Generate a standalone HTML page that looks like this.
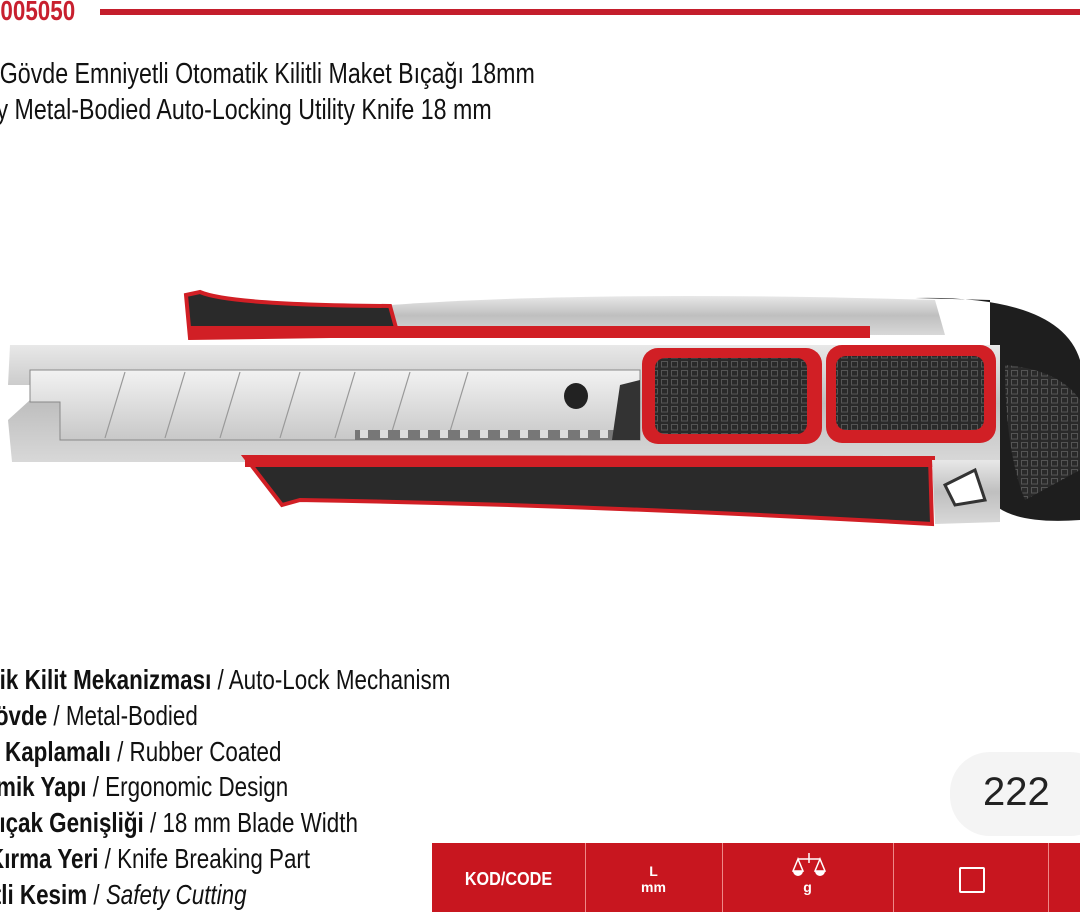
<!DOCTYPE html>
<html style="overflow:hidden"><head><meta charset="utf-8"><style>
html,body{margin:0;width:1080px;height:922px;overflow:hidden;}
body{background:#fff;position:relative;font-family:"Liberation Sans",sans-serif;}
.a{position:absolute;white-space:nowrap;text-align:right;color:#111;transform:scaleX(0.8);transform-origin:right center;}
.f{font-size:28px;line-height:36px;}
b{font-weight:bold}
</style></head><body>
<div class="a" style="right:1005px;top:-5px;font-size:28px;font-weight:bold;color:#c8202f;">1100005050</div>
<div style="position:absolute;left:100px;top:9px;width:980px;height:6px;background:#c41e2c;"></div>
<div class="a" style="right:545px;top:58px;font-size:29px;">Metal Gövde Emniyetli Otomatik Kilitli Maket Bıçağı 18mm</div>
<div class="a" style="right:588px;top:94px;font-size:29px;">Heavy Metal-Bodied Auto-Locking Utility Knife 18 mm</div>

<svg style="position:absolute;left:0;top:0" width="1080" height="922">
<defs>
<linearGradient id="sv" x1="0" y1="0" x2="0" y2="1"><stop offset="0" stop-color="#e8e8e8"/><stop offset=".5" stop-color="#bfbfbf"/><stop offset="1" stop-color="#d8d8d8"/></linearGradient>
<linearGradient id="bl" x1="0" y1="0" x2="0" y2="1"><stop offset="0" stop-color="#f2f2f2"/><stop offset="1" stop-color="#c8c8c8"/></linearGradient>
<pattern id="gr" width="10" height="9" patternUnits="userSpaceOnUse"><rect width="10" height="9" fill="#2a2a2a"/><rect x="1.5" y="1.5" width="6" height="5.5" fill="none" stroke="#555" stroke-width="1"/></pattern>
</defs>
<path d="M915 298 Q1060 295 1080 360 L1080 520 Q1010 525 990 500 L990 300 Z" fill="#1e1e1e"/>
<path d="M1005 365 Q1060 370 1080 400 L1080 470 L1025 500 Q1005 450 1005 365Z" fill="url(#gr)"/>
<path d="M390 305 Q600 290 935 300 L945 335 L390 335Z" fill="url(#sv)"/>
<path d="M186 295 L200 292 Q230 305 390 306 L398 335 L190 338Z" fill="#2a2a2a" stroke="#d11f25" stroke-width="4"/>
<rect x="188" y="326" width="682" height="12" fill="#d11f25"/>
<path d="M10 345 L1000 345 L1000 462 L12 462 L8 420 L30 400 L30 385 L8 385Z" fill="url(#sv)"/>
<path d="M30 370 L640 370 L640 440 L60 440 L60 402 L30 402Z" fill="url(#bl)" stroke="#888" stroke-width="1"/>
<g stroke="#999" stroke-width="1.2"><line x1="125" y1="372" x2="105" y2="438"/><line x1="185" y1="372" x2="165" y2="438"/><line x1="240" y1="372" x2="220" y2="438"/><line x1="300" y1="372" x2="280" y2="438"/><line x1="355" y1="372" x2="335" y2="438"/><line x1="410" y1="372" x2="390" y2="438"/><line x1="468" y1="372" x2="448" y2="438"/></g>
<g fill="#777"><rect x="355" y="430" width="285" height="10"/></g>
<g fill="#ddd"><rect x="360" y="430" width="8" height="8"/><rect x="380" y="430" width="8" height="8"/><rect x="400" y="430" width="8" height="8"/><rect x="420" y="430" width="8" height="8"/><rect x="440" y="430" width="8" height="8"/><rect x="460" y="430" width="8" height="8"/><rect x="480" y="430" width="8" height="8"/><rect x="500" y="430" width="8" height="8"/><rect x="520" y="430" width="8" height="8"/><rect x="540" y="430" width="8" height="8"/><rect x="560" y="430" width="8" height="8"/><rect x="580" y="430" width="8" height="8"/><rect x="600" y="430" width="8" height="8"/></g>
<ellipse cx="576" cy="396" rx="12" ry="13" fill="#222"/>
<path d="M620 385 L640 380 L640 440 L612 440Z" fill="#333"/>
<rect x="642" y="348" width="180" height="96" rx="16" fill="#d11f25"/>
<rect x="655" y="358" width="152" height="76" rx="10" fill="url(#gr)"/>
<rect x="826" y="345" width="170" height="98" rx="16" fill="#d11f25"/>
<rect x="836" y="356" width="148" height="74" rx="10" fill="url(#gr)"/>
<path d="M245 457 L930 458 L932 524 Q600 505 300 500 L282 505 Z" fill="#2a2a2a" stroke="#d11f25" stroke-width="4"/>
<rect x="245" y="456" width="690" height="11" fill="#d11f25"/>
<path d="M932 460 L1000 460 L1000 522 L935 524Z" fill="url(#sv)"/>
<path d="M945 485 L975 470 L985 500 L955 505Z" fill="#fff" stroke="#333" stroke-width="3"/>
</svg>

<div class="a f" style="right:630px;top:662px;"><b>Otomatik Kilit Mekanizması</b> / Auto-Lock Mechanism</div>
<div class="a f" style="right:882px;top:698px;"><b>Metal Gövde</b> / Metal-Bodied</div>
<div class="a f" style="right:799px;top:734px;"><b>Kauçuk Kaplamalı</b> / Rubber Coated</div>
<div class="a f" style="right:792px;top:769px;"><b>Ergonomik Yapı</b> / Ergonomic Design</div>
<div class="a f" style="right:722px;top:805px;"><b>18 mm Bıçak Genişliği</b> / 18 mm Blade Width</div>
<div class="a f" style="right:770px;top:841px;"><b>Bıçak Kırma Yeri</b> / Knife Breaking Part</div>
<div class="a f" style="right:833px;top:877px;"><b>Emniyetli Kesim</b> / <i>Safety Cutting</i></div>

<div style="position:absolute;left:950px;top:752px;width:160px;height:84px;border-radius:40px;background:#f4f4f4;"></div>
<div style="position:absolute;left:983px;top:770px;font-size:40px;color:#222;">222</div>

<div style="position:absolute;left:432px;top:843px;width:648px;height:69px;background:#c8161f;color:#fff;font-weight:bold;">
<div style="position:absolute;left:153px;top:0;width:1px;height:69px;background:#e88;"></div>
<div style="position:absolute;left:290px;top:0;width:1px;height:69px;background:#e88;"></div>
<div style="position:absolute;left:461px;top:0;width:1px;height:69px;background:#e88;"></div>
<div style="position:absolute;left:616px;top:0;width:1px;height:69px;background:#e88;"></div>
<div style="position:absolute;left:0;width:153px;top:26px;text-align:center;font-size:18px;transform:scaleX(0.9);">KOD/CODE</div>
<div style="position:absolute;left:153px;width:137px;top:20px;text-align:center;font-size:14px;line-height:16px;">L<br>mm</div>
<div style="position:absolute;left:290px;width:171px;top:36px;text-align:center;font-size:14px;">g</div>
<svg style="position:absolute;left:360px;top:10px" width="34" height="28"><g stroke="#fff" stroke-width="1.5" fill="none"><line x1="17" y1="0" x2="17" y2="10"/><line x1="6" y1="6" x2="28" y2="6"/><path d="M6 6 L1 18 L11 18Z"/><path d="M28 6 L23 18 L33 18Z"/></g><path d="M1 18 A5 5 0 0 0 11 18Z M23 18 A5 5 0 0 0 33 18Z" fill="#fff"/></svg>
<div style="position:absolute;left:527px;top:24px;width:22px;height:22px;border:2px solid #fff;border-radius:2px;"></div>
</div>
</body></html>
